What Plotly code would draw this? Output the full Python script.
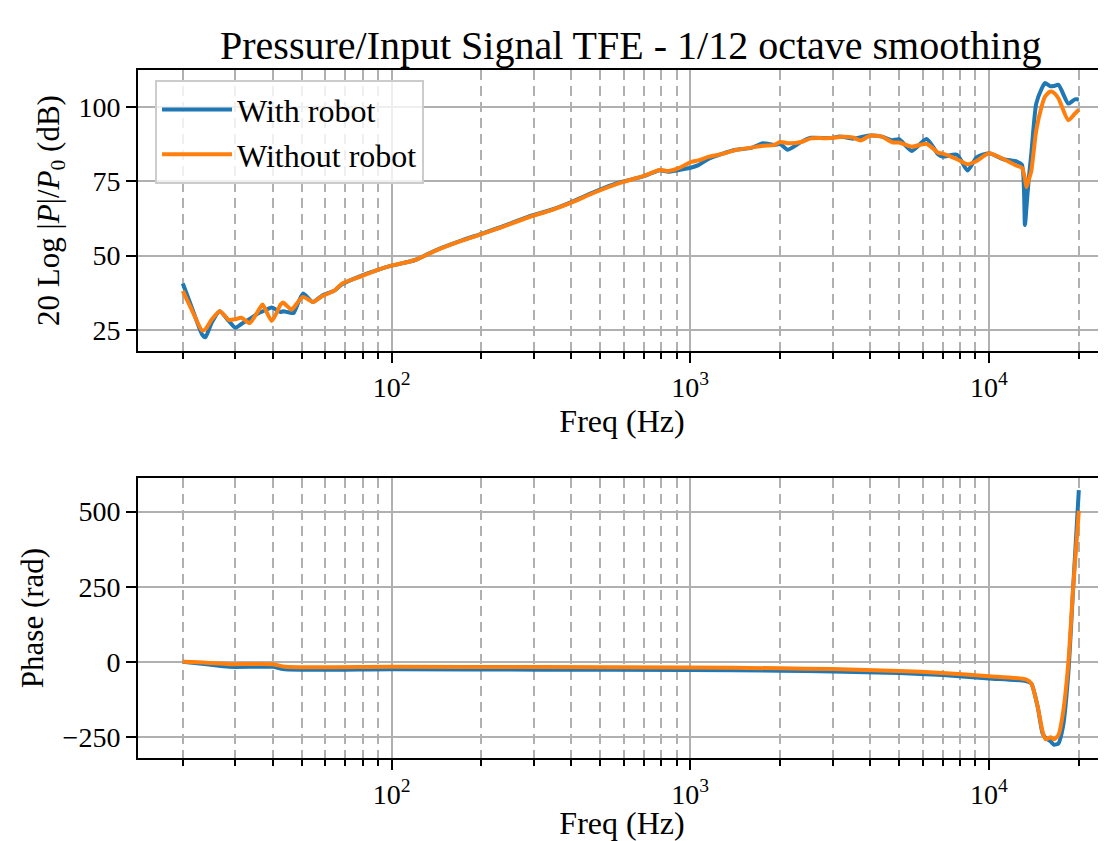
import plotly.graph_objects as go

# ---------------- data ----------------
mag_freq = [20, 21.6, 23.2, 23.8, 25, 26.6, 28.5, 30, 31.4, 33.5, 36.3, 37, 39.7, 42.5,
            43.3, 46.2, 47, 50.5, 54.5, 58.5, 64.5, 68.4, 79, 90, 100, 120, 140, 172,
            200, 233, 286, 343, 400, 478, 572, 700, 790, 843, 909, 1010, 1065, 1150,
            1283, 1420, 1601, 1750, 1915, 2000, 2120, 2350, 2535, 2950, 3170, 3500,
            3720, 4000, 4380, 4740, 5000, 5520, 6180, 6770, 7000, 7820, 8480, 9100,
            10000, 11200, 12400, 12900, 13200, 13350, 13600, 13860, 14400, 15000,
            15400, 16000, 16470, 17100, 18440, 19400, 20000]
mag_with = [40.6, 31.6, 23.5, 22.5, 27.5, 31.3, 28.0, 25.7, 27.0, 28.7, 31.0, 31.2, 32.5, 31.0,
            31.3, 30.7, 30.7, 37.2, 34.4, 36.5, 38.3, 40.4, 43.2, 45.2, 46.6, 48.5, 51.7, 55.1,
            57.3, 59.6, 63.0, 65.4, 68.0, 71.4, 74.4, 76.7, 78.7, 78.2, 78.7, 79.6, 80.4, 82.5,
            84.3, 85.6, 86.2, 87.8, 87.2, 87.5, 85.6, 88.2, 89.6, 89.5, 90.0, 89.3,
            89.8, 90.4, 90.0, 88.8, 89.1, 85.2, 89.2, 84.0, 83.3, 83.9, 78.6, 83.0,
            84.4, 82.4, 81.6, 80.5, 60.2, 66.0, 76.0, 84.1, 101.1, 106.0,
            108.0, 107.0, 107.0, 107.4, 101.1, 102.5, 102.5]
mag_without = [38.1, 31.0, 24.8, 25.2, 28.5, 31.3, 28.4, 28.6, 29.1, 27.3, 32.5, 33.5, 28.0, 33.5,
               34.2, 31.8, 32.5, 36.1, 34.4, 36.3, 38.3, 40.6, 43.0, 45.2, 46.6, 48.5, 51.6, 55.0,
               57.2, 59.5, 62.8, 65.3, 67.8, 71.2, 74.2, 76.8, 78.8, 78.4, 79.3, 81.5, 82.0, 83.2,
               84.2, 85.5, 86.3, 86.9, 87.2, 88.2, 87.8, 88.2, 89.4, 89.5, 89.9, 89.7,
               88.7, 90.3, 90.0, 88.1, 88.0, 86.6, 87.6, 84.5, 84.3, 82.4, 80.7, 81.8,
               84.4, 82.4, 80.2, 79.5, 76.0, 73.0, 75.5, 78.4, 92.0, 100.0,
               103.4, 105.1, 104.8, 102.8, 95.5, 97.7, 99.1]

ph_freq = [20, 24, 28.6, 40, 44, 100, 317, 1000, 2000, 3000, 5000, 7000, 10000, 13300,
           13860, 14560, 15120, 15500, 16100, 16500, 17100, 17700, 18440, 19150, 20000]
ph_with = [0, -8, -16.6, -16.6, -25, -24.5, -26, -27, -29.5, -32, -37, -44, -55, -64,
           -72, -149, -238, -254, -265, -276, -271, -216, -39, 249, 572]
ph_without = [0, -3, -7.7, -7.7, -16.6, -16.6, -17.5, -18.5, -21.5, -24, -30, -37, -47.6, -58.6,
              -72, -149, -232, -258, -251, -258, -243, -171, -5.5, 249, 503]

series_names = ["With robot", "Without robot"]
x_major = [100, 1000, 10000]
x_major_text = ["10<sup>2</sup>", "10<sup>3</sup>", "10<sup>4</sup>"]
x_minor = [20, 30, 40, 50, 60, 70, 80, 90, 200, 300, 400, 500, 600, 700, 800, 900,
           2000, 3000, 4000, 5000, 6000, 7000, 8000, 9000, 20000]
mag_ticks = [25, 50, 75, 100]
ph_ticks = [-250, 0, 250, 500]

title_text = "Pressure/Input Signal TFE - 1/12 octave smoothing"
mag_label = "20 Log |<i>P</i>|/<i>P</i><sub>0</sub> (dB)"
ph_label = "Phase (rad)"
freq_label = "Freq (Hz)"

# ---------------- styling ----------------
BLUE = "#1f77b4"
ORANGE = "#ff7f0e"
FONT = "Liberation Serif"
GRID = "#b0b0b0"

fig = go.Figure()
line_w = 4
line_kw = dict(width=line_w, shape="spline", smoothing=0.6)
fig.add_trace(go.Scatter(x=mag_freq, y=mag_with, mode="lines", name=series_names[0],
                         line=dict(color=BLUE, **line_kw), xaxis="x", yaxis="y"))
fig.add_trace(go.Scatter(x=mag_freq, y=mag_without, mode="lines", name=series_names[1],
                         line=dict(color=ORANGE, **line_kw), xaxis="x", yaxis="y"))
fig.add_trace(go.Scatter(x=ph_freq, y=ph_with, mode="lines", showlegend=False,
                         line=dict(color=BLUE, **line_kw), xaxis="x2", yaxis="y2"))
fig.add_trace(go.Scatter(x=ph_freq, y=ph_without, mode="lines", showlegend=False,
                         line=dict(color=ORANGE, **line_kw), xaxis="x2", yaxis="y2"))

# the page body adds an 8px offset; figure is sized to fill the rest of the window
OFF = 8
W, H = 1106 - OFF, 841 - OFF
L, R, T, B = 138 - OFF, 0, 70 - OFF, 83
ph_h = H - T - B
top_dom = [(758 - 351) / ph_h, 1.0]
bot_dom = [0.0, (758 - 478) / ph_h]

def xaxis_cfg(anchor):
    return dict(
        type="log", range=[1.151, 4.392], anchor=anchor,
        tickmode="array", tickvals=x_major, ticktext=x_major_text,
        ticks="outside", ticklen=10, tickwidth=2, tickcolor="black",
        showline=True, linecolor="black", linewidth=2, mirror=True,
        showgrid=True, gridcolor=GRID, gridwidth=2,
        minor=dict(tickmode="array", tickvals=x_minor, ticks="outside", ticklen=6,
                   tickwidth=1.5, tickcolor="black", showgrid=True, gridcolor=GRID,
                   gridwidth=1.5, griddash="10px,6px"),
        tickfont=dict(family=FONT, size=28, color="black"),
        title=dict(text=freq_label, font=dict(family=FONT, size=32, color="black"), standoff=8),
        zeroline=False,
    )

def yaxis_cfg(dom, rng, ticks, label, anchor):
    return dict(
        domain=dom, range=rng, anchor=anchor,
        tickmode="array", tickvals=ticks,
        ticks="outside", ticklen=10, tickwidth=2, tickcolor="black",
        showline=True, linecolor="black", linewidth=2, mirror=False,
        showgrid=True, gridcolor=GRID, gridwidth=2, zeroline=False,
        tickfont=dict(family=FONT, size=28, color="black"),
        title=dict(text=label, font=dict(family=FONT, size=31, color="black"), standoff=10),
    )

fig.update_layout(
    width=W, height=H,
    margin=dict(l=L, r=R, t=T, b=B, autoexpand=False),
    paper_bgcolor="white", plot_bgcolor="white",
    font=dict(family=FONT, color="black"),
    title=dict(text=title_text, x=0.509, xref="paper", xanchor="center",
               y=1 - (45 - OFF) / H, yanchor="middle",
               font=dict(family=FONT, size=40, color="black")),
    xaxis=xaxis_cfg("y"),
    yaxis=yaxis_cfg(top_dom, [17.9, 112.4], mag_ticks, mag_label, "x"),
    xaxis2=xaxis_cfg("y2"),
    yaxis2=yaxis_cfg(bot_dom, [-320, 612], ph_ticks, ph_label, "x2"),
    legend=dict(x=0.0176, y=0.985, xanchor="left", yanchor="top",
                itemwidth=70,
                bgcolor="rgba(255,255,255,0.8)", bordercolor="#cccccc", borderwidth=2,
                font=dict(family=FONT, size=32, color="black")),
    showlegend=True,
)

fig.write_html("out.html")
